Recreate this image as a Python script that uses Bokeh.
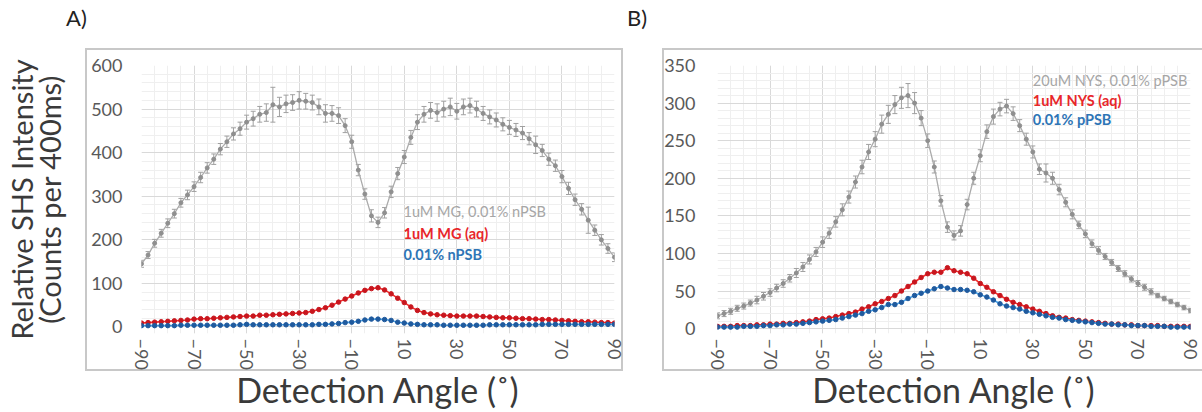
import math
from bokeh.plotting import figure
from bokeh.models import Range1d, FixedTicker, Whisker, TeeHead, ColumnDataSource, Label, LinearAxis, Div
from bokeh.layouts import row, column
from bokeh.embed import file_html
from bokeh.resources import INLINE

FONT = "Lato"

# ---------------- data ----------------
angles = [-90, -87.5, -85, -82.5, -80, -77.5, -75, -72.5, -70, -67.5, -65, -62.5, -60, -57.5, -55, -52.5,
          -50, -47.5, -45, -42.5, -40, -37.5, -35, -32.5, -30, -27.5, -25, -22.5, -20, -17.5, -15, -12.5,
          -10, -7.5, -5, -2.5, 0, 2.5, 5, 7.5, 10, 12.5, 15, 17.5, 20, 22.5, 25, 27.5, 30, 32.5, 35, 37.5,
          40, 42.5, 45, 47.5, 50, 52.5, 55, 57.5, 60, 62.5, 65, 67.5, 70, 72.5, 75, 77.5, 80, 82.5, 85, 87.5, 90]

x_tick_values = [-90, -70, -50, -30, -10, 10, 30, 50, 70, 90]

# Panel A
a_mg_npsb = [145, 165, 192, 215, 238, 260, 285, 303, 322, 343, 365, 385, 408, 425, 443, 455,
             470, 478, 488, 492, 510, 505, 512, 515, 520, 518, 515, 505, 490, 490, 485, 462,
             425, 360, 305, 255, 240, 262, 310, 352, 390, 435, 470, 488, 497, 492, 500, 505, 495, 505, 508, 500,
             490, 482, 475, 465, 458, 452, 445, 432, 418, 405, 385, 370, 345, 318, 292, 270, 245, 222, 200, 180, 160]
a_mg_npsb_err = [8, 8, 9, 9, 10, 10, 10, 11, 11, 12, 12, 12, 13, 13, 14, 15,
                 16, 17, 18, 20, 40, 22, 20, 18, 20, 18, 17, 18, 20, 18, 18, 16,
                 15, 13, 12, 14, 12, 12, 13, 14, 15, 16, 17, 18, 18, 20, 18, 20, 18, 18, 17, 18,
                 16, 16, 16, 15, 16, 15, 15, 14, 20, 14, 14, 13, 14, 14, 13, 13, 30, 12, 12, 11, 10]
a_mg_aq = [9, 10, 11, 12, 13, 14, 15, 16, 18, 19, 19, 20, 21, 22, 23, 24,
           25, 25, 27, 27, 28, 29, 30, 31, 32, 33, 36, 40, 44, 50, 57, 64,
           71, 78, 84, 88, 90, 85, 76, 66, 56, 46, 38, 33, 30, 28, 27, 26, 25, 25, 25, 25,
           24, 23, 22, 21, 21, 20, 19, 19, 18, 17, 17, 16, 15, 14, 13, 12, 12, 11, 10, 10, 9]
a_npsb = [3, 3, 3, 3, 3, 3, 4, 4, 4, 4, 4, 4, 4, 4, 4, 5,
          6, 5, 5, 5, 5, 5, 5, 5, 5, 5, 5, 6, 6, 7, 8, 10,
          11, 13, 16, 18, 18, 17, 15, 11, 9, 7, 6, 5, 5, 5, 4, 4, 4, 4, 4, 4,
          4, 5, 5, 5, 5, 5, 5, 5, 5, 6, 6, 6, 6, 6, 6, 6, 6, 6, 6, 6, 6]

# Panel B
b_nys_ppsb = [17, 20, 23, 27, 30, 34, 38, 43, 48, 54, 60, 67, 74, 82, 92, 102,
              115, 127, 142, 158, 175, 195, 215, 235, 252, 272, 285, 298, 307, 310, 300, 280,
              250, 215, 170, 135, 124, 130, 165, 200, 230, 262, 282, 292, 296, 286, 270, 252, 235, 212, 207, 200,
              185, 168, 152, 138, 126, 113, 104, 96, 88, 80, 73, 66, 60, 55, 49, 44, 40, 36, 32, 28, 24]
b_nys_ppsb_err = [4, 4, 4, 4, 4, 4, 5, 5, 5, 5, 5, 5, 6, 6, 6, 6,
                  7, 7, 7, 8, 8, 8, 9, 10, 10, 12, 12, 12, 14, 16, 14, 10,
                  9, 8, 7, 7, 6, 7, 7, 8, 8, 9, 10, 9, 9, 9, 8, 8, 8, 7, 12, 8,
                  7, 6, 6, 5, 5, 5, 5, 4, 4, 4, 4, 4, 4, 4, 4, 3, 3, 3, 3, 3, 3]
b_nys_aq = [3, 3, 3, 4, 4, 4, 5, 5, 6, 6, 7, 7, 8, 9, 10, 12,
            13, 14, 16, 18, 20, 22, 26, 29, 33, 36, 40, 44, 50, 56, 62, 68,
            73, 75, 75, 81, 77, 75, 73, 67, 60, 55, 49, 44, 39, 35, 32, 29, 26, 23, 20, 17,
            15, 14, 12, 11, 10, 9, 8, 7, 6, 6, 5, 5, 4, 4, 4, 4, 3, 3, 3, 3, 3]
b_ppsb = [2, 2, 2, 2, 3, 3, 3, 4, 4, 5, 5, 6, 6, 7, 8, 9,
          10, 11, 12, 14, 16, 18, 20, 23, 25, 28, 32, 32, 35, 40, 44, 47,
          50, 53, 56, 54, 52, 52, 51, 49, 45, 42, 38, 33, 30, 28, 26, 23, 21, 19, 17, 15,
          14, 12, 11, 10, 9, 8, 7, 6, 6, 5, 5, 4, 4, 4, 3, 3, 3, 2, 2, 2, 2]

legend_a = ["1uM MG, 0.01% nPSB", "1uM MG (aq)", "0.01% nPSB"]
legend_b = ["20uM NYS, 0.01% pPSB", "1uM NYS (aq)", "0.01% pPSB"]
y_label_lines = ["Relative SHS Intensity", "(Counts per 400ms)"]
x_label = "Detection Angle (\u02da)"
panel_letters = ["A)", "B)"]

GRAY_LINE = "#ababab"
GRAY_MARK = "#8f8f8f"
RED_LINE = "#f52a2a"
RED_MARK = "#c8161e"
BLUE_LINE = "#4aa3e8"
BLUE_MARK = "#1f5a9e"
TEXT_GRAY = "#a6a6a6"
TEXT_RED = "#e8262a"
TEXT_BLUE = "#2e75b6"
LABEL_COLOR = "#3a3a3a"
BOX = "linear-gradient(#c8c8c8, #c8c8c8)"

TOP_H = 40
H = 372


def box_css(left, top, right, bottom):
    w = right - left
    h = bottom - top
    return (f"{BOX} {left}px {top}px / {w}px 2px no-repeat, "
            f"{BOX} {left}px {bottom - 2}px / {w}px 2px no-repeat, "
            f"{BOX} {left}px {top}px / 2px {h}px no-repeat, "
            f"{BOX} {right - 2}px {top}px / 2px {h}px no-repeat, #ffffff")


def make_panel(width, mbl, mbr, mbt, mbb, ymin, ymax, ystep, yminor, ylabel_standoff,
               gray, gray_err, red, blue, legend, leg_x, leg_ys, box):
    p = figure(width=width, height=H, output_backend="svg", toolbar_location=None,
               x_range=Range1d(-90, 90), y_range=Range1d(ymin, ymax),
               min_border_left=mbl, min_border_right=mbr, min_border_top=mbt, min_border_bottom=mbb)
    p.outline_line_color = None
    p.background_fill_color = "white"
    p.border_fill_color = None
    p.styles = {"background": box_css(*box)}

    yt = list(range(0, ymax + 1, ystep))
    p.xaxis.ticker = FixedTicker(ticks=x_tick_values)
    p.yaxis.ticker = FixedTicker(ticks=yt)
    p.xgrid.ticker = FixedTicker(ticks=x_tick_values, minor_ticks=list(range(-90, 91, 5)))
    p.ygrid.ticker = FixedTicker(ticks=yt, minor_ticks=list(range(0, ymax + 1, yminor)))
    for g in (p.xgrid, p.ygrid):
        g.grid_line_color = "#d9d9d9"
        g.grid_line_width = 1
        g.minor_grid_line_color = "#efefef"
        g.minor_grid_line_width = 1

    for ax in (p.xaxis, p.yaxis):
        ax.axis_line_color = None
        ax.major_tick_line_color = None
        ax.minor_tick_line_color = None
        ax.major_tick_out = 0
        ax.major_tick_in = 0
        ax.minor_tick_out = 0
        ax.minor_tick_in = 0
        ax.major_label_text_font = FONT
        ax.major_label_text_font_size = "18px"
        ax.major_label_text_color = "#595959"
        ax.axis_label_text_font = FONT
        ax.axis_label_text_font_style = "normal"
        ax.axis_label_text_color = LABEL_COLOR
    p.xaxis.major_label_orientation = -math.pi / 2
    p.xaxis.major_label_standoff = 5
    p.yaxis.major_label_standoff = ylabel_standoff
    p.xaxis.axis_label = x_label
    p.xaxis.axis_label_text_font_size = "34px"
    p.xaxis.axis_label_standoff = -4

    src = ColumnDataSource(data=dict(
        x=angles, y=gray,
        upper=[v + e for v, e in zip(gray, gray_err)],
        lower=[v - e for v, e in zip(gray, gray_err)],
    ))
    p.add_layout(Whisker(source=src, base="x", upper="upper", lower="lower",
                         line_color="#a0a0a0", line_width=1,
                         upper_head=TeeHead(size=5, line_color="#a0a0a0", line_width=1),
                         lower_head=TeeHead(size=5, line_color="#a0a0a0", line_width=1)))
    p.line("x", "y", source=src, line_color=GRAY_LINE, line_width=1.3)
    p.scatter("x", "y", source=src, size=4, fill_color=GRAY_MARK, line_color=GRAY_MARK)

    p.line(angles, red, line_color=RED_LINE, line_width=1.6)
    p.scatter(angles, red, size=4.5, fill_color=RED_MARK, line_color=RED_MARK)
    p.line(angles, blue, line_color=BLUE_LINE, line_width=1.6)
    p.scatter(angles, blue, size=4.5, fill_color=BLUE_MARK, line_color=BLUE_MARK)

    for txt, yy, col, wt in zip(legend, leg_ys, [TEXT_GRAY, TEXT_RED, TEXT_BLUE], ["normal", "bold", "bold"]):
        p.add_layout(Label(x=leg_x, y=yy, text=txt, text_font=FONT, text_font_size="14.5px",
                           text_color=col, text_font_style=wt, text_baseline="middle", text_align="left"))
    return p


def label_axis(text, standoff):
    ax = LinearAxis(ticker=FixedTicker(ticks=[]), axis_label=text)
    ax.axis_line_color = None
    ax.major_tick_line_color = None
    ax.minor_tick_line_color = None
    ax.major_tick_out = 0
    ax.major_tick_in = 0
    ax.minor_tick_out = 0
    ax.minor_tick_in = 0
    ax.major_label_standoff = 0
    ax.axis_label_standoff = standoff
    ax.axis_label_text_font = FONT
    ax.axis_label_text_font_size = "29px"
    ax.axis_label_text_font_style = "normal"
    ax.axis_label_text_color = LABEL_COLOR
    return ax


# Panel A: page x 0..625, frame page x 141..614, y 65..335 (figure starts at page y 40)
pa = make_panel(625, 141, 11, 25, 77, -15, 600, 100, 20, 19,
                a_mg_npsb, a_mg_npsb_err, a_mg_aq, a_npsb, legend_a, 9.7, [264, 214, 166],
                (85, 8, 623, 331))
pa.add_layout(label_axis(y_label_lines[1], 22), "left")
pa.add_layout(label_axis(y_label_lines[0], -10), "left")

# Panel B: page x 625..1202, frame page x 717..1190, y 63..335
pb = make_panel(577, 92, 12, 23, 77, -6.5, 350, 50, 10, 22,
                b_nys_ppsb, b_nys_ppsb_err, b_nys_aq, b_ppsb, legend_b, 30, [330, 304, 278],
                (37, 8, 640, 331))


def letter_div(text, width, pad_left):
    html = (f'<div style="padding:7px 0 0 {pad_left}px; font-family:{FONT}; font-size:22px; '
            f'line-height:22px; color:#222222;">{text}</div>')
    return Div(text=html, width=width, height=TOP_H, styles={"margin": "0", "padding": "0"})


top = row(letter_div(panel_letters[0], 625, 66), letter_div(panel_letters[1], 577, 2), spacing=0)
layout = column(top, row(pa, pb, spacing=0), spacing=0)
open("out.html", "w").write(file_html(layout, INLINE))
